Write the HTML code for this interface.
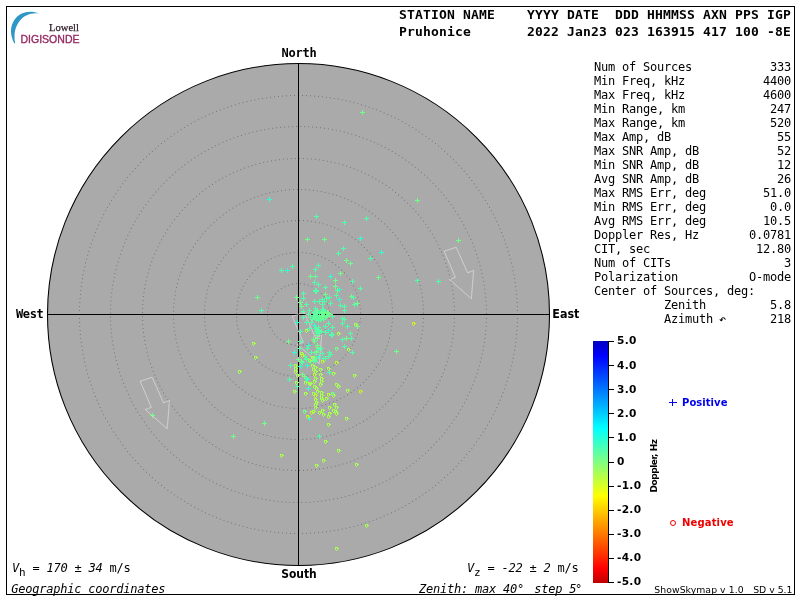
<!DOCTYPE html>
<html lang="en"><head><meta charset="utf-8"><title>Skymap - Pruhonice</title>
<style>
html,body{margin:0;padding:0;background:#fff;overflow:hidden}
svg{display:block}
.mb{font-family:"DejaVu Sans Mono","Liberation Mono",monospace;font-weight:bold;font-size:13px;letter-spacing:0.173px;fill:#000}
.m{font-family:"DejaVu Sans Mono","Liberation Mono",monospace;font-size:12px;letter-spacing:-0.225px;fill:#000}
.mi{font-family:"DejaVu Sans Mono","Liberation Mono",monospace;font-size:12px;letter-spacing:-0.225px;font-style:oblique;fill:#000}
.sb{font-family:"DejaVu Sans","Liberation Sans",sans-serif;font-weight:bold;font-size:12px;fill:#000}
.s{font-family:"DejaVu Sans","Liberation Sans",sans-serif;font-size:10px;fill:#000}
</style></head><body>
<svg width="800" height="600" viewBox="0 0 800 600">
<rect x="0" y="0" width="800" height="600" fill="#fff"/>
<rect x="6.5" y="6.5" width="788" height="588" fill="none" stroke="#000" stroke-width="1" shape-rendering="crispEdges"/>
<circle cx="298.5" cy="314.5" r="251.0" fill="#aaaaaa" stroke="#000" stroke-width="1.05"/>
<path d="M329.5 314.5h0M329.2 318.5h0M328.5 322.4h0M327.2 326.2h0M325.5 329.8h0M323.3 333.1h0M320.7 336.2h0M317.7 338.8h0M314.4 341.1h0M310.8 342.9h0M307.1 344.3h0M303.2 345.1h0M299.2 345.5h0M295.2 345.3h0M291.3 344.6h0M287.4 343.5h0M283.8 341.8h0M280.4 339.7h0M277.3 337.1h0M274.6 334.2h0M272.3 331.0h0M270.3 327.5h0M268.9 323.7h0M268.0 319.9h0M267.5 315.9h0M267.6 311.9h0M268.2 307.9h0M269.3 304.1h0M270.9 300.4h0M272.9 297.0h0M275.4 293.8h0M278.2 291.0h0M281.4 288.6h0M284.9 286.6h0M288.6 285.1h0M292.5 284.1h0M296.4 283.6h0M300.4 283.6h0M304.4 284.1h0M308.2 285.1h0M312.0 286.6h0M315.4 288.5h0M318.6 290.9h0M321.5 293.7h0M324.0 296.8h0M326.0 300.3h0M327.6 303.9h0M328.8 307.8h0M329.4 311.7h0" fill="none" stroke="#767676" stroke-width="1" stroke-linecap="square"/>
<path d="M360.5 314.5h0M360.4 318.5h0M360.0 322.5h0M359.3 326.4h0M358.4 330.3h0M357.3 334.2h0M355.9 337.9h0M354.3 341.6h0M352.4 345.1h0M350.3 348.5h0M348.0 351.8h0M345.5 354.9h0M342.8 357.8h0M339.9 360.6h0M336.9 363.2h0M333.7 365.6h0M330.3 367.7h0M326.8 369.7h0M323.2 371.4h0M319.5 372.8h0M315.7 374.1h0M311.8 375.1h0M307.9 375.8h0M303.9 376.3h0M299.9 376.5h0M295.9 376.4h0M291.9 376.1h0M287.9 375.6h0M284.0 374.8h0M280.2 373.7h0M276.4 372.4h0M272.7 370.9h0M269.1 369.1h0M265.7 367.1h0M262.3 364.9h0M259.2 362.4h0M256.2 359.8h0M253.3 357.0h0M250.7 354.0h0M248.2 350.8h0M246.0 347.5h0M244.0 344.0h0M242.2 340.5h0M240.6 336.8h0M239.3 333.0h0M238.3 329.1h0M237.4 325.2h0M236.9 321.3h0M236.6 317.3h0M236.5 313.3h0M236.7 309.3h0M237.2 305.3h0M237.9 301.4h0M238.9 297.5h0M240.1 293.7h0M241.6 290.0h0M243.3 286.3h0M245.2 282.8h0M247.3 279.5h0M249.7 276.2h0M252.3 273.2h0M255.0 270.3h0M258.0 267.6h0M261.1 265.1h0M264.3 262.8h0M267.8 260.7h0M271.3 258.8h0M274.9 257.2h0M278.7 255.8h0M282.5 254.6h0M286.4 253.7h0M290.4 253.0h0M294.3 252.6h0M298.3 252.5h0M302.3 252.6h0M306.3 253.0h0M310.3 253.6h0M314.2 254.5h0M318.0 255.6h0M321.7 257.0h0M325.4 258.6h0M329.0 260.5h0M332.4 262.6h0M335.6 264.9h0M338.8 267.4h0M341.7 270.1h0M344.5 272.9h0M347.1 276.0h0M349.5 279.2h0M351.6 282.6h0M353.6 286.0h0M355.3 289.7h0M356.8 293.4h0M358.0 297.2h0M359.0 301.1h0M359.8 305.0h0M360.3 308.9h0M360.5 312.9h0" fill="none" stroke="#767676" stroke-width="1" stroke-linecap="square"/>
<path d="M392.5 314.5h0M392.4 318.5h0M392.2 322.5h0M391.7 326.5h0M391.1 330.4h0M390.4 334.3h0M389.5 338.2h0M388.4 342.1h0M387.1 345.9h0M385.7 349.6h0M384.1 353.3h0M382.4 356.9h0M380.5 360.4h0M378.5 363.9h0M376.3 367.2h0M374.0 370.5h0M371.5 373.7h0M369.0 376.7h0M366.2 379.7h0M363.4 382.5h0M360.5 385.2h0M357.4 387.8h0M354.2 390.2h0M351.0 392.5h0M347.6 394.7h0M344.1 396.7h0M340.6 398.5h0M337.0 400.3h0M333.3 401.8h0M329.6 403.2h0M325.8 404.5h0M321.9 405.5h0M318.0 406.5h0M314.1 407.2h0M310.1 407.8h0M306.1 408.2h0M302.2 408.4h0M298.2 408.5h0M294.2 408.4h0M290.2 408.1h0M286.2 407.7h0M282.2 407.1h0M278.3 406.3h0M274.4 405.4h0M270.6 404.3h0M266.8 403.0h0M263.1 401.6h0M259.4 400.0h0M255.8 398.2h0M252.3 396.3h0M248.8 394.3h0M245.5 392.1h0M242.2 389.8h0M239.1 387.3h0M236.0 384.7h0M233.1 382.0h0M230.3 379.2h0M227.6 376.2h0M225.0 373.1h0M222.6 370.0h0M220.3 366.7h0M218.2 363.3h0M216.2 359.8h0M214.3 356.3h0M212.6 352.7h0M211.1 349.0h0M209.7 345.2h0M208.4 341.4h0M207.4 337.6h0M206.5 333.7h0M205.7 329.7h0M205.2 325.8h0M204.8 321.8h0M204.6 317.8h0M204.5 313.8h0M204.6 309.8h0M204.9 305.8h0M205.4 301.8h0M206.0 297.9h0M206.8 294.0h0M207.7 290.1h0M208.8 286.3h0M210.1 282.5h0M211.6 278.7h0M213.2 275.1h0M214.9 271.5h0M216.8 268.0h0M218.9 264.5h0M221.1 261.2h0M223.4 257.9h0M225.9 254.8h0M228.5 251.8h0M231.2 248.8h0M234.1 246.0h0M237.1 243.4h0M240.1 240.8h0M243.3 238.4h0M246.6 236.1h0M250.0 234.0h0M253.5 232.0h0M257.0 230.1h0M260.6 228.5h0M264.3 226.9h0M268.1 225.6h0M271.9 224.3h0M275.8 223.3h0M279.7 222.4h0M283.6 221.7h0M287.6 221.1h0M291.5 220.8h0M295.5 220.5h0M299.5 220.5h0M303.5 220.6h0M307.5 220.9h0M311.5 221.4h0M315.4 222.0h0M319.4 222.8h0M323.2 223.8h0M327.1 224.9h0M330.9 226.2h0M334.6 227.7h0M338.2 229.3h0M341.8 231.1h0M345.3 233.0h0M348.8 235.1h0M352.1 237.3h0M355.3 239.6h0M358.5 242.1h0M361.5 244.7h0M364.4 247.5h0M367.2 250.3h0M369.9 253.3h0M372.4 256.4h0M374.8 259.6h0M377.1 262.9h0M379.2 266.3h0M381.2 269.8h0M383.0 273.3h0M384.7 277.0h0M386.2 280.7h0M387.6 284.4h0M388.8 288.2h0M389.8 292.1h0M390.7 296.0h0M391.4 299.9h0M391.9 303.9h0M392.3 307.9h0M392.5 311.9h0" fill="none" stroke="#767676" stroke-width="1" stroke-linecap="square"/>
<path d="M423.5 314.5h0M423.4 318.5h0M423.2 322.5h0M422.9 326.5h0M422.5 330.5h0M421.9 334.4h0M421.2 338.4h0M420.4 342.3h0M419.4 346.2h0M418.4 350.0h0M417.2 353.8h0M415.8 357.6h0M414.4 361.3h0M412.8 365.0h0M411.2 368.6h0M409.4 372.2h0M407.5 375.7h0M405.5 379.2h0M403.3 382.6h0M401.1 385.9h0M398.8 389.1h0M396.3 392.3h0M393.8 395.4h0M391.1 398.4h0M388.4 401.3h0M385.6 404.2h0M382.7 406.9h0M379.7 409.6h0M376.6 412.1h0M373.4 414.6h0M370.2 416.9h0M366.9 419.1h0M363.5 421.3h0M360.0 423.3h0M356.5 425.2h0M353.0 427.0h0M349.3 428.7h0M345.7 430.3h0M341.9 431.7h0M338.2 433.0h0M334.3 434.3h0M330.5 435.3h0M326.6 436.3h0M322.7 437.1h0M318.8 437.8h0M314.8 438.4h0M310.8 438.9h0M306.8 439.2h0M302.8 439.4h0M298.8 439.5h0M294.9 439.4h0M290.9 439.3h0M286.9 439.0h0M282.9 438.5h0M278.9 438.0h0M275.0 437.3h0M271.1 436.5h0M267.2 435.5h0M263.3 434.5h0M259.5 433.3h0M255.7 432.0h0M252.0 430.5h0M248.3 429.0h0M244.7 427.3h0M241.1 425.5h0M237.6 423.6h0M234.1 421.6h0M230.7 419.5h0M227.4 417.3h0M224.1 415.0h0M221.0 412.5h0M217.9 410.0h0M214.8 407.4h0M211.9 404.7h0M209.1 401.8h0M206.3 398.9h0M203.7 395.9h0M201.1 392.9h0M198.7 389.7h0M196.3 386.5h0M194.1 383.2h0M191.9 379.8h0M189.9 376.3h0M188.0 372.8h0M186.1 369.3h0M184.4 365.7h0M182.9 362.0h0M181.4 358.3h0M180.1 354.5h0M178.8 350.7h0M177.8 346.8h0M176.8 342.9h0M175.9 339.0h0M175.2 335.1h0M174.6 331.1h0M174.1 327.2h0M173.8 323.2h0M173.6 319.2h0M173.5 315.2h0M173.5 311.2h0M173.7 307.2h0M174.0 303.2h0M174.4 299.2h0M175.0 295.3h0M175.7 291.3h0M176.5 287.4h0M177.4 283.5h0M178.5 279.7h0M179.6 275.8h0M180.9 272.1h0M182.3 268.3h0M183.9 264.6h0M185.5 261.0h0M187.3 257.4h0M189.2 253.9h0M191.2 250.4h0M193.3 247.0h0M195.5 243.7h0M197.8 240.4h0M200.2 237.2h0M202.8 234.1h0M205.4 231.1h0M208.1 228.2h0M210.9 225.3h0M213.8 222.6h0M216.8 219.9h0M219.9 217.3h0M223.0 214.9h0M226.2 212.5h0M229.5 210.2h0M232.9 208.1h0M236.3 206.0h0M239.8 204.1h0M243.4 202.3h0M247.0 200.6h0M250.7 199.0h0M254.4 197.5h0M258.2 196.2h0M262.0 195.0h0M265.8 193.8h0M269.7 192.9h0M273.6 192.0h0M277.6 191.3h0M281.5 190.7h0M285.5 190.2h0M289.5 189.8h0M293.5 189.6h0M297.5 189.5h0M301.5 189.5h0M305.4 189.7h0M309.4 190.0h0M313.4 190.4h0M317.4 190.9h0M321.3 191.6h0M325.2 192.4h0M329.1 193.3h0M333.0 194.4h0M336.8 195.5h0M340.6 196.8h0M344.4 198.2h0M348.1 199.7h0M351.7 201.4h0M355.3 203.1h0M358.8 205.0h0M362.3 207.0h0M365.7 209.1h0M369.0 211.3h0M372.3 213.6h0M375.5 216.0h0M378.6 218.5h0M381.6 221.2h0M384.6 223.9h0M387.4 226.7h0M390.2 229.6h0M392.9 232.5h0M395.4 235.6h0M397.9 238.7h0M400.3 242.0h0M402.6 245.2h0M404.7 248.6h0M406.8 252.0h0M408.7 255.5h0M410.6 259.1h0M412.3 262.7h0M413.9 266.4h0M415.3 270.1h0M416.7 273.9h0M417.9 277.7h0M419.1 281.5h0M420.1 285.4h0M420.9 289.3h0M421.7 293.2h0M422.3 297.2h0M422.8 301.1h0M423.1 305.1h0M423.4 309.1h0M423.5 313.1h0" fill="none" stroke="#767676" stroke-width="1" stroke-linecap="square"/>
<path d="M454.5 314.5h0M454.4 318.5h0M454.3 322.5h0M454.0 326.5h0M453.7 330.5h0M453.2 334.4h0M452.7 338.4h0M452.0 342.3h0M451.2 346.3h0M450.4 350.2h0M449.4 354.1h0M448.3 357.9h0M447.2 361.7h0M445.9 365.5h0M444.6 369.3h0M443.1 373.0h0M441.6 376.7h0M439.9 380.4h0M438.2 384.0h0M436.4 387.5h0M434.4 391.0h0M432.4 394.5h0M430.3 397.9h0M428.1 401.3h0M425.9 404.6h0M423.5 407.8h0M421.1 411.0h0M418.6 414.1h0M416.0 417.1h0M413.3 420.1h0M410.6 423.0h0M407.8 425.8h0M404.9 428.6h0M401.9 431.3h0M398.9 433.9h0M395.8 436.4h0M392.6 438.9h0M389.4 441.3h0M386.1 443.6h0M382.8 445.8h0M379.4 447.9h0M375.9 449.9h0M372.5 451.9h0M368.9 453.7h0M365.3 455.5h0M361.7 457.1h0M358.0 458.7h0M354.3 460.2h0M350.5 461.6h0M346.7 462.9h0M342.9 464.0h0M339.1 465.1h0M335.2 466.1h0M331.3 467.0h0M327.4 467.8h0M323.4 468.5h0M319.5 469.1h0M315.5 469.6h0M311.5 470.0h0M307.5 470.2h0M303.5 470.4h0M299.5 470.5h0M295.5 470.5h0M291.5 470.3h0M287.6 470.1h0M283.6 469.8h0M279.6 469.3h0M275.6 468.8h0M271.7 468.2h0M267.7 467.4h0M263.8 466.6h0M259.9 465.7h0M256.1 464.6h0M252.3 463.5h0M248.4 462.3h0M244.7 460.9h0M240.9 459.5h0M237.2 458.0h0M233.6 456.4h0M230.0 454.6h0M226.4 452.8h0M222.9 450.9h0M219.4 449.0h0M216.0 446.9h0M212.6 444.7h0M209.3 442.5h0M206.0 440.2h0M202.9 437.7h0M199.7 435.2h0M196.7 432.7h0M193.7 430.0h0M190.7 427.3h0M187.9 424.5h0M185.1 421.6h0M182.4 418.7h0M179.8 415.7h0M177.2 412.6h0M174.7 409.5h0M172.3 406.3h0M170.0 403.0h0M167.8 399.7h0M165.7 396.3h0M163.6 392.9h0M161.6 389.4h0M159.8 385.8h0M158.0 382.3h0M156.3 378.6h0M154.7 375.0h0M153.2 371.3h0M151.8 367.5h0M150.5 363.7h0M149.3 359.9h0M148.1 356.1h0M147.1 352.2h0M146.2 348.3h0M145.4 344.4h0M144.7 340.5h0M144.1 336.5h0M143.5 332.5h0M143.1 328.6h0M142.8 324.6h0M142.6 320.6h0M142.5 316.6h0M142.5 312.6h0M142.6 308.6h0M142.8 304.6h0M143.1 300.6h0M143.5 296.6h0M144.0 292.7h0M144.6 288.7h0M145.4 284.8h0M146.2 280.9h0M147.1 277.0h0M148.1 273.1h0M149.2 269.2h0M150.4 265.4h0M151.7 261.7h0M153.1 257.9h0M154.6 254.2h0M156.2 250.5h0M157.9 246.9h0M159.7 243.3h0M161.6 239.8h0M163.5 236.3h0M165.6 232.9h0M167.7 229.5h0M169.9 226.2h0M172.2 222.9h0M174.6 219.7h0M177.1 216.5h0M179.6 213.5h0M182.3 210.4h0M185.0 207.5h0M187.8 204.6h0M190.6 201.8h0M193.5 199.1h0M196.5 196.4h0M199.6 193.9h0M202.7 191.4h0M205.9 189.0h0M209.2 186.6h0M212.5 184.4h0M215.8 182.2h0M219.2 180.1h0M222.7 178.1h0M226.2 176.2h0M229.8 174.4h0M233.4 172.7h0M237.1 171.1h0M240.8 169.6h0M244.5 168.1h0M248.3 166.8h0M252.1 165.6h0M255.9 164.4h0M259.8 163.4h0M263.7 162.4h0M267.6 161.6h0M271.5 160.9h0M275.5 160.2h0M279.4 159.7h0M283.4 159.2h0M287.4 158.9h0M291.4 158.7h0M295.4 158.5h0M299.4 158.5h0M303.4 158.6h0M307.4 158.8h0M311.4 159.0h0M315.3 159.4h0M319.3 159.9h0M323.3 160.5h0M327.2 161.2h0M331.1 161.9h0M335.0 162.8h0M338.9 163.8h0M342.8 164.9h0M346.6 166.1h0M350.4 167.4h0M354.1 168.8h0M357.8 170.2h0M361.5 171.8h0M365.2 173.5h0M368.7 175.2h0M372.3 177.1h0M375.8 179.0h0M379.2 181.0h0M382.6 183.1h0M386.0 185.3h0M389.3 187.6h0M392.5 190.0h0M395.6 192.4h0M398.7 195.0h0M401.8 197.6h0M404.7 200.3h0M407.6 203.0h0M410.5 205.9h0M413.2 208.8h0M415.9 211.7h0M418.5 214.8h0M421.0 217.9h0M423.4 221.1h0M425.8 224.3h0M428.1 227.6h0M430.2 230.9h0M432.3 234.3h0M434.3 237.8h0M436.3 241.3h0M438.1 244.9h0M439.8 248.5h0M441.5 252.1h0M443.0 255.8h0M444.5 259.5h0M445.9 263.3h0M447.1 267.1h0M448.3 270.9h0M449.4 274.8h0M450.3 278.6h0M451.2 282.6h0M452.0 286.5h0M452.6 290.4h0M453.2 294.4h0M453.7 298.4h0M454.0 302.3h0M454.3 306.3h0M454.4 310.3h0M454.5 314.3h0" fill="none" stroke="#767676" stroke-width="1" stroke-linecap="square"/>
<path d="M486.5 314.5h0M486.5 318.5h0M486.3 322.5h0M486.1 326.5h0M485.8 330.5h0M485.4 334.5h0M485.0 338.4h0M484.4 342.4h0M483.8 346.3h0M483.1 350.3h0M482.3 354.2h0M481.4 358.1h0M480.4 362.0h0M479.4 365.8h0M478.2 369.7h0M477.0 373.5h0M475.7 377.3h0M474.3 381.0h0M472.9 384.8h0M471.3 388.4h0M469.7 392.1h0M468.0 395.7h0M466.3 399.3h0M464.4 402.9h0M462.5 406.4h0M460.5 409.9h0M458.5 413.3h0M456.3 416.7h0M454.1 420.0h0M451.8 423.3h0M449.5 426.5h0M447.1 429.7h0M444.6 432.8h0M442.0 435.9h0M439.4 438.9h0M436.7 441.9h0M434.0 444.8h0M431.2 447.7h0M428.3 450.5h0M425.4 453.2h0M422.4 455.9h0M419.4 458.5h0M416.3 461.0h0M413.2 463.5h0M410.0 465.9h0M406.7 468.2h0M403.4 470.5h0M400.1 472.7h0M396.7 474.8h0M393.3 476.9h0M389.8 478.9h0M386.3 480.8h0M382.7 482.6h0M379.1 484.3h0M375.5 486.0h0M371.8 487.6h0M368.1 489.1h0M364.4 490.6h0M360.6 491.9h0M356.8 493.2h0M353.0 494.4h0M349.2 495.5h0M345.3 496.6h0M341.4 497.5h0M337.5 498.4h0M333.6 499.2h0M329.7 499.9h0M325.7 500.5h0M321.8 501.1h0M317.8 501.5h0M313.8 501.9h0M309.8 502.2h0M305.8 502.4h0M301.8 502.5h0M297.8 502.5h0M293.8 502.4h0M289.8 502.3h0M285.8 502.1h0M281.8 501.8h0M277.9 501.4h0M273.9 500.9h0M269.9 500.3h0M266.0 499.7h0M262.0 498.9h0M258.1 498.1h0M254.2 497.2h0M250.4 496.2h0M246.5 495.2h0M242.7 494.0h0M238.9 492.8h0M235.1 491.5h0M231.3 490.1h0M227.6 488.6h0M223.9 487.1h0M220.3 485.4h0M216.6 483.7h0M213.1 482.0h0M209.5 480.1h0M206.0 478.2h0M202.6 476.2h0M199.1 474.1h0M195.8 471.9h0M192.4 469.7h0M189.2 467.4h0M185.9 465.1h0M182.8 462.6h0M179.6 460.1h0M176.6 457.6h0M173.5 455.0h0M170.6 452.3h0M167.7 449.5h0M164.8 446.7h0M162.1 443.8h0M159.3 440.9h0M156.7 437.9h0M154.1 434.9h0M151.6 431.8h0M149.1 428.6h0M146.7 425.4h0M144.4 422.1h0M142.1 418.8h0M139.9 415.5h0M137.8 412.1h0M135.8 408.7h0M133.8 405.2h0M131.9 401.7h0M130.1 398.1h0M128.4 394.5h0M126.7 390.8h0M125.1 387.2h0M123.6 383.5h0M122.2 379.7h0M120.8 376.0h0M119.6 372.2h0M118.4 368.4h0M117.3 364.5h0M116.3 360.6h0M115.3 356.8h0M114.5 352.8h0M113.7 348.9h0M113.0 345.0h0M112.4 341.0h0M111.9 337.1h0M111.4 333.1h0M111.1 329.1h0M110.8 325.1h0M110.6 321.1h0M110.5 317.1h0M110.5 313.1h0M110.6 309.1h0M110.7 305.1h0M111.0 301.1h0M111.3 297.1h0M111.7 293.2h0M112.2 289.2h0M112.8 285.2h0M113.5 281.3h0M114.2 277.4h0M115.0 273.5h0M116.0 269.6h0M116.9 265.7h0M118.0 261.8h0M119.2 258.0h0M120.4 254.2h0M121.8 250.4h0M123.2 246.7h0M124.6 243.0h0M126.2 239.3h0M127.8 235.6h0M129.6 232.0h0M131.3 228.4h0M133.2 224.9h0M135.2 221.4h0M137.2 218.0h0M139.3 214.6h0M141.4 211.2h0M143.7 207.9h0M146.0 204.6h0M148.3 201.4h0M150.8 198.2h0M153.3 195.1h0M155.9 192.0h0M158.5 189.0h0M161.2 186.1h0M164.0 183.2h0M166.8 180.3h0M169.7 177.6h0M172.6 174.9h0M175.6 172.2h0M178.7 169.6h0M181.8 167.1h0M184.9 164.7h0M188.2 162.3h0M191.4 160.0h0M194.7 157.7h0M198.1 155.6h0M201.5 153.5h0M204.9 151.4h0M208.4 149.5h0M212.0 147.6h0M215.5 145.8h0M219.1 144.1h0M222.8 142.4h0M226.5 140.8h0M230.2 139.4h0M233.9 137.9h0M237.7 136.6h0M241.5 135.4h0M245.3 134.2h0M249.2 133.1h0M253.0 132.1h0M256.9 131.2h0M260.8 130.3h0M264.8 129.6h0M268.7 128.9h0M272.7 128.3h0M276.6 127.8h0M280.6 127.4h0M284.6 127.0h0M288.6 126.8h0M292.6 126.6h0M296.6 126.5h0M300.6 126.5h0M304.6 126.6h0M308.6 126.8h0M312.6 127.0h0M316.5 127.4h0M320.5 127.8h0M324.5 128.3h0M328.4 128.9h0M332.4 129.6h0M336.3 130.3h0M340.2 131.2h0M344.1 132.1h0M348.0 133.1h0M351.8 134.2h0M355.7 135.4h0M359.4 136.7h0M363.2 138.0h0M367.0 139.4h0M370.7 140.9h0M374.3 142.5h0M378.0 144.1h0M381.6 145.9h0M385.2 147.7h0M388.7 149.5h0M392.2 151.5h0M395.6 153.5h0M399.0 155.6h0M402.4 157.8h0M405.7 160.1h0M409.0 162.4h0M412.2 164.8h0M415.3 167.2h0M418.4 169.7h0M421.5 172.3h0M424.5 175.0h0M427.4 177.7h0M430.3 180.4h0M433.1 183.3h0M435.9 186.2h0M438.6 189.1h0M441.2 192.1h0M443.8 195.2h0M446.3 198.3h0M448.7 201.5h0M451.1 204.7h0M453.4 208.0h0M455.6 211.3h0M457.8 214.7h0M459.9 218.1h0M461.9 221.5h0M463.8 225.0h0M465.7 228.6h0M467.5 232.2h0M469.2 235.8h0M470.9 239.4h0M472.4 243.1h0M473.9 246.8h0M475.3 250.6h0M476.6 254.3h0M477.9 258.1h0M479.0 262.0h0M480.1 265.8h0M481.1 269.7h0M482.0 273.6h0M482.8 277.5h0M483.6 281.4h0M484.2 285.4h0M484.8 289.3h0M485.3 293.3h0M485.7 297.3h0M486.0 301.3h0M486.3 305.3h0M486.4 309.3h0M486.5 313.3h0" fill="none" stroke="#767676" stroke-width="1" stroke-linecap="square"/>
<path d="M517.5 314.5h0M517.5 318.5h0M517.4 322.5h0M517.2 326.5h0M516.9 330.5h0M516.6 334.5h0M516.2 338.5h0M515.7 342.4h0M515.2 346.4h0M514.5 350.3h0M513.9 354.3h0M513.1 358.2h0M512.3 362.1h0M511.4 366.0h0M510.4 369.9h0M509.3 373.8h0M508.2 377.6h0M507.0 381.4h0M505.8 385.2h0M504.4 389.0h0M503.0 392.7h0M501.6 396.5h0M500.1 400.2h0M498.5 403.8h0M496.8 407.5h0M495.1 411.1h0M493.3 414.6h0M491.4 418.2h0M489.5 421.7h0M487.5 425.2h0M485.4 428.6h0M483.3 432.0h0M481.1 435.3h0M478.9 438.7h0M476.6 441.9h0M474.3 445.2h0M471.8 448.3h0M469.4 451.5h0M466.8 454.6h0M464.2 457.6h0M461.6 460.6h0M458.9 463.6h0M456.2 466.5h0M453.4 469.4h0M450.5 472.2h0M447.6 474.9h0M444.6 477.6h0M441.6 480.2h0M438.6 482.8h0M435.5 485.4h0M432.3 487.8h0M429.2 490.3h0M425.9 492.6h0M422.7 494.9h0M419.3 497.1h0M416.0 499.3h0M412.6 501.4h0M409.2 503.5h0M405.7 505.5h0M402.2 507.4h0M398.6 509.3h0M395.1 511.1h0M391.5 512.8h0M387.8 514.5h0M384.2 516.1h0M380.5 517.6h0M376.7 519.0h0M373.0 520.4h0M369.2 521.8h0M365.4 523.0h0M361.6 524.2h0M357.8 525.3h0M353.9 526.4h0M350.0 527.4h0M346.1 528.3h0M342.2 529.1h0M338.3 529.9h0M334.3 530.5h0M330.4 531.2h0M326.4 531.7h0M322.5 532.2h0M318.5 532.6h0M314.5 532.9h0M310.5 533.2h0M306.5 533.4h0M302.5 533.5h0M298.5 533.5h0M294.5 533.5h0M290.5 533.4h0M286.5 533.2h0M282.5 532.9h0M278.5 532.6h0M274.6 532.2h0M270.6 531.7h0M266.6 531.2h0M262.7 530.5h0M258.7 529.9h0M254.8 529.1h0M250.9 528.3h0M247.0 527.4h0M243.1 526.4h0M239.3 525.3h0M235.4 524.2h0M231.6 523.0h0M227.8 521.8h0M224.0 520.4h0M220.3 519.1h0M216.5 517.6h0M212.9 516.1h0M209.2 514.5h0M205.5 512.8h0M201.9 511.1h0M198.4 509.3h0M194.8 507.4h0M191.3 505.5h0M187.9 503.5h0M184.4 501.4h0M181.0 499.3h0M177.7 497.1h0M174.4 494.9h0M171.1 492.6h0M167.8 490.3h0M164.7 487.8h0M161.5 485.4h0M158.4 482.8h0M155.4 480.3h0M152.4 477.6h0M149.4 474.9h0M146.5 472.2h0M143.6 469.4h0M140.8 466.5h0M138.1 463.6h0M135.4 460.6h0M132.8 457.6h0M130.2 454.6h0M127.6 451.5h0M125.2 448.4h0M122.8 445.2h0M120.4 441.9h0M118.1 438.7h0M115.9 435.3h0M113.7 432.0h0M111.6 428.6h0M109.5 425.2h0M107.5 421.7h0M105.6 418.2h0M103.7 414.6h0M101.9 411.1h0M100.2 407.5h0M98.5 403.8h0M96.9 400.2h0M95.4 396.5h0M94.0 392.7h0M92.6 389.0h0M91.2 385.2h0M90.0 381.4h0M88.8 377.6h0M87.7 373.8h0M86.6 369.9h0M85.6 366.0h0M84.7 362.1h0M83.9 358.2h0M83.1 354.3h0M82.5 350.3h0M81.8 346.4h0M81.3 342.4h0M80.8 338.5h0M80.4 334.5h0M80.1 330.5h0M79.8 326.5h0M79.6 322.5h0M79.5 318.5h0M79.5 314.5h0M79.5 310.5h0M79.6 306.5h0M79.8 302.5h0M80.1 298.5h0M80.4 294.5h0M80.8 290.6h0M81.3 286.6h0M81.8 282.6h0M82.5 278.7h0M83.1 274.7h0M83.9 270.8h0M84.7 266.9h0M85.6 263.0h0M86.6 259.1h0M87.7 255.3h0M88.8 251.4h0M90.0 247.6h0M91.2 243.8h0M92.6 240.0h0M93.9 236.3h0M95.4 232.6h0M96.9 228.9h0M98.5 225.2h0M100.2 221.6h0M101.9 217.9h0M103.7 214.4h0M105.6 210.8h0M107.5 207.3h0M109.5 203.9h0M111.6 200.4h0M113.7 197.0h0M115.8 193.7h0M118.1 190.4h0M120.4 187.1h0M122.7 183.8h0M125.2 180.7h0M127.6 177.5h0M130.2 174.4h0M132.7 171.4h0M135.4 168.4h0M138.1 165.4h0M140.8 162.5h0M143.6 159.7h0M146.5 156.8h0M149.4 154.1h0M152.3 151.4h0M155.4 148.8h0M158.4 146.2h0M161.5 143.6h0M164.6 141.2h0M167.8 138.8h0M171.1 136.4h0M174.3 134.1h0M177.7 131.9h0M181.0 129.7h0M184.4 127.6h0M187.8 125.5h0M191.3 123.5h0M194.8 121.6h0M198.4 119.7h0M201.9 117.9h0M205.5 116.2h0M209.2 114.5h0M212.8 112.9h0M216.5 111.4h0M220.3 110.0h0M224.0 108.6h0M227.8 107.2h0M231.6 106.0h0M235.4 104.8h0M239.2 103.7h0M243.1 102.6h0M247.0 101.6h0M250.9 100.7h0M254.8 99.9h0M258.7 99.1h0M262.6 98.5h0M266.6 97.8h0M270.6 97.3h0M274.5 96.8h0M278.5 96.4h0M282.5 96.1h0M286.5 95.8h0M290.5 95.6h0M294.5 95.5h0M298.5 95.5h0M302.5 95.5h0M306.5 95.6h0M310.5 95.8h0M314.5 96.1h0M318.5 96.4h0M322.4 96.8h0M326.4 97.3h0M330.4 97.8h0M334.3 98.5h0M338.3 99.1h0M342.2 99.9h0M346.1 100.7h0M350.0 101.6h0M353.9 102.6h0M357.7 103.7h0M361.6 104.8h0M365.4 106.0h0M369.2 107.2h0M373.0 108.6h0M376.7 109.9h0M380.4 111.4h0M384.1 112.9h0M387.8 114.5h0M391.4 116.2h0M395.0 117.9h0M398.6 119.7h0M402.2 121.6h0M405.7 123.5h0M409.1 125.5h0M412.6 127.6h0M416.0 129.7h0M419.3 131.8h0M422.6 134.1h0M425.9 136.4h0M429.1 138.7h0M432.3 141.2h0M435.5 143.6h0M438.6 146.2h0M441.6 148.7h0M444.6 151.4h0M447.6 154.1h0M450.5 156.8h0M453.3 159.6h0M456.1 162.5h0M458.9 165.4h0M461.6 168.3h0M464.2 171.3h0M466.8 174.4h0M469.4 177.5h0M471.8 180.6h0M474.2 183.8h0M476.6 187.1h0M478.9 190.3h0M481.1 193.6h0M483.3 197.0h0M485.4 200.4h0M487.5 203.8h0M489.5 207.3h0M491.4 210.8h0M493.3 214.3h0M495.1 217.9h0M496.8 221.5h0M498.5 225.2h0M500.0 228.8h0M501.6 232.5h0M503.0 236.3h0M504.4 240.0h0M505.8 243.8h0M507.0 247.6h0M508.2 251.4h0M509.3 255.2h0M510.4 259.1h0M511.4 263.0h0M512.3 266.9h0M513.1 270.8h0M513.9 274.7h0M514.5 278.6h0M515.2 282.6h0M515.7 286.6h0M516.2 290.5h0M516.6 294.5h0M516.9 298.5h0M517.2 302.5h0M517.4 306.5h0M517.5 310.5h0M517.5 314.5h0" fill="none" stroke="#767676" stroke-width="1" stroke-linecap="square"/>
<line x1="298.5" y1="63.5" x2="298.5" y2="565.5" stroke="#000" stroke-width="1" shape-rendering="crispEdges"/>
<line x1="47.5" y1="314.5" x2="549.5" y2="314.5" stroke="#000" stroke-width="1" shape-rendering="crispEdges"/>
<polygon points="292.2,316.2 304.2,312.3 315.6,337.8 321.6,335.5 319.3,363.7 297.3,344.5 303.4,342.4" fill="none" stroke="#fff" stroke-opacity="0.32" stroke-width="1" stroke-linejoin="miter"/>
<polygon points="444.2,251.2 456.2,247.3 467.6,272.8 473.6,270.5 471.4,298.7 449.4,279.5 455.4,277.4" fill="none" stroke="#fff" stroke-opacity="0.32" stroke-width="1" stroke-linejoin="miter"/>
<polygon points="140.1,381.2 152.1,377.3 163.5,402.8 169.5,400.5 167.2,428.7 145.2,409.5 151.3,407.4" fill="none" stroke="#fff" stroke-opacity="0.32" stroke-width="1" stroke-linejoin="miter"/>
<g fill="none" stroke-width="1" shape-rendering="crispEdges">
<path stroke="#5cffa0" d="M321 309.5h5M323.5 307v5M314 310.5h5M316.5 308v5M321 310.5h5M323.5 308v5M313 311.5h5M315.5 309v5M315 311.5h5M317.5 309v5M320 311.5h5M322.5 309v5M322 311.5h5M324.5 309v5M312 312.5h5M314.5 310v5M314 312.5h5M316.5 310v5M317 312.5h5M319.5 310v5M321 312.5h5M323.5 310v5M313 313.5h5M315.5 311v5M315 313.5h5M317.5 311v5M319 313.5h5M321.5 311v5M322 313.5h5M324.5 311v5M306 314.5h5M308.5 312v5M313 314.5h5M315.5 312v5M311 315.5h5M313.5 313v5M314 315.5h5M316.5 313v5M317 315.5h5M319.5 313v5M320 315.5h5M322.5 313v5M322 315.5h5M324.5 313v5M325 315.5h5M327.5 313v5M313 316.5h5M315.5 314v5M315 316.5h5M317.5 314v5M321 316.5h5M323.5 314v5M308 317.5h5M310.5 315v5M314 317.5h5M316.5 315v5M316 317.5h5M318.5 315v5M318 317.5h5M320.5 315v5M323 317.5h5M325.5 315v5M313 318.5h5M315.5 316v5M315 318.5h5M317.5 316v5M319 318.5h5M321.5 316v5M310 319.5h5M312.5 317v5M314 319.5h5M316.5 317v5M316 319.5h5M318.5 317v5M318 319.5h5M320.5 317v5M321 319.5h5M323.5 317v5M316 320.5h5M318.5 318v5"/>
<path stroke="#70ff88" d="M320 312.5h5M322.5 310v5M325 312.5h5M327.5 310v5M326 313.5h5M328.5 311v5M327 314.5h5M329.5 312v5M319 316.5h5M321.5 314v5M324 316.5h5M326.5 314v5M320 317.5h5M322.5 315v5M360 112.5h5M362.5 110v5M305 239.5h5M307.5 237v5M322 239.5h5M324.5 237v5M255 297.5h5M257.5 295v5M294 297.5h5M296.5 295v5M344 260.5h5M346.5 258v5M348 263.5h5M350.5 261v5M308 276.5h5M310.5 274v5M338 273.5h5M340.5 271v5M333 280.5h5M335.5 278v5M333 286.5h5M335.5 284v5M335 290.5h5M337.5 288v5M376 277.5h5M378.5 275v5M456 240.5h5M458.5 238v5M415 200.5h5M417.5 198v5M286 341.5h5M288.5 339v5M296 359.5h5M298.5 357v5M262 423.5h5M264.5 421v5M231 436.5h5M233.5 434v5M150 415.5h5M152.5 413v5M394 351.5h5M396.5 349v5M298 302.5h5M300.5 300v5M299 306.5h5M301.5 304v5M323 294.5h5M325.5 292v5M349 296.5h5M351.5 294v5M355 303.5h5M357.5 301v5M344 338.5h5M346.5 336v5M355 326.5h5M357.5 324v5M311 339.5h5M313.5 337v5M315 338.5h5M317.5 336v5M312 341.5h5M314.5 339v5M315 345.5h5M317.5 343v5M315 347.5h5M317.5 345v5M299 361.5h5M301.5 359v5M300 374.5h5M302.5 372v5M311 360.5h5M313.5 358v5M312 357.5h5M314.5 355v5M302 376.5h5M304.5 374v5M314 351.5h5M316.5 349v5M316 330.5h5M318.5 328v5M315 335.5h5M317.5 333v5"/>
<path stroke="#30ffd0" d="M267 199.5h5M269.5 197v5M358 238.5h5M360.5 236v5M285 270.5h5M287.5 268v5M328 276.5h5M330.5 274v5M337 289.5h5M339.5 287v5M379 252.5h5M381.5 250v5M295 322.5h5M297.5 320v5M292 352.5h5M294.5 350v5M307 418.5h5M309.5 416v5M337 299.5h5M339.5 297v5M326 330.5h5M328.5 328v5M312 325.5h5M314.5 323v5M306 345.5h5M308.5 343v5M316 356.5h5M318.5 354v5M298 366.5h5M300.5 364v5M305 365.5h5M307.5 363v5M306 388.5h5M308.5 386v5M305 379.5h5M307.5 377v5"/>
<path stroke="#50ffa8" d="M314 216.5h5M316.5 214v5M342 222.5h5M344.5 220v5M364 218.5h5M366.5 216v5M290 266.5h5M292.5 264v5M279 270.5h5M281.5 268v5M341 248.5h5M343.5 246v5M336 253.5h5M338.5 251v5M368 258.5h5M370.5 256v5M316 265.5h5M318.5 263v5M313 269.5h5M315.5 267v5M313 276.5h5M315.5 274v5M312 282.5h5M314.5 280v5M316 284.5h5M318.5 282v5M323 287.5h5M325.5 285v5M350 281.5h5M352.5 279v5M358 288.5h5M360.5 286v5M415 280.5h5M417.5 278v5M436 281.5h5M438.5 279v5M259 310.5h5M261.5 308v5M288 365.5h5M290.5 363v5M287 379.5h5M289.5 377v5M295 386.5h5M297.5 384v5M317 436.5h5M319.5 434v5M301 293.5h5M303.5 291v5M301 298.5h5M303.5 296v5M304 304.5h5M306.5 302v5M312 301.5h5M314.5 299v5M317 301.5h5M319.5 299v5M313 290.5h5M315.5 288v5M314 291.5h5M316.5 289v5M313 291.5h5M315.5 289v5M314 290.5h5M316.5 288v5M301 311.5h5M303.5 309v5M307 310.5h5M309.5 308v5M313 308.5h5M315.5 306v5M320 299.5h5M322.5 297v5M327 297.5h5M329.5 295v5M324 298.5h5M326.5 296v5M334 295.5h5M336.5 293v5M328 303.5h5M330.5 301v5M320 304.5h5M322.5 302v5M322 301.5h5M324.5 299v5M338 305.5h5M340.5 303v5M342 306.5h5M344.5 304v5M342 310.5h5M344.5 308v5M351 297.5h5M353.5 295v5M352 304.5h5M354.5 302v5M340 318.5h5M342.5 316v5M342 319.5h5M344.5 317v5M340 323.5h5M342.5 321v5M345 326.5h5M347.5 324v5M348 333.5h5M350.5 331v5M349 338.5h5M351.5 336v5M340 339.5h5M342.5 337v5M330 316.5h5M332.5 314v5M326 323.5h5M328.5 321v5M330 327.5h5M332.5 325v5M329 334.5h5M331.5 332v5M330 334.5h5M332.5 332v5M329 335.5h5M331.5 333v5M323 326.5h5M325.5 324v5M323 332.5h5M325.5 330v5M301 317.5h5M303.5 315v5M304 322.5h5M306.5 320v5M309 322.5h5M311.5 320v5M307 328.5h5M309.5 326v5M319 331.5h5M321.5 329v5M298 331.5h5M300.5 329v5M298 341.5h5M300.5 339v5M297 348.5h5M299.5 346v5M305 348.5h5M307.5 346v5M309 352.5h5M311.5 350v5M319 348.5h5M321.5 346v5M320 353.5h5M322.5 351v5M304 359.5h5M306.5 357v5M342 346.5h5M344.5 344v5M350 352.5h5M352.5 350v5M327 352.5h5M329.5 350v5M328 354.5h5M330.5 352v5M326 356.5h5M328.5 354v5M323 358.5h5M325.5 356v5M327 372.5h5M329.5 370v5M320 309.5h5M322.5 307v5M303 356.5h5M305.5 354v5M304 358.5h5M306.5 356v5M300 362.5h5M302.5 360v5M314 352.5h5M316.5 350v5M321 358.5h5M323.5 356v5M313 361.5h5M315.5 359v5M308 361.5h5M310.5 359v5M314 358.5h5M316.5 356v5M304 378.5h5M306.5 376v5M316 349.5h5M318.5 347v5M313 328.5h5M315.5 326v5M315 329.5h5M317.5 327v5M314 331.5h5M316.5 329v5M315 333.5h5M317.5 331v5M316 327.5h5M318.5 325v5M317 332.5h5M319.5 330v5"/>
</g>
<g stroke="none" shape-rendering="crispEdges">
<path fill="#a4ff50" d="M252 342h3v1h-3zM252 343h1v2h-1zM254 343h2v1h-1v1h-1zM253 345h1v1h-1zM254 356h3v1h-3zM254 357h1v2h-1zM256 357h2v1h-1v1h-1zM255 359h1v1h-1zM238 370h3v1h-3zM238 371h1v2h-1zM240 371h2v1h-1v1h-1zM239 373h1v1h-1zM280 454h3v1h-3zM280 455h1v2h-1zM282 455h2v1h-1v1h-1zM281 457h1v1h-1zM365 524h3v1h-3zM365 525h1v2h-1zM367 525h2v1h-1v1h-1zM366 527h1v1h-1zM335 547h3v1h-3zM335 548h1v2h-1zM337 548h2v1h-1v1h-1zM336 550h1v1h-1zM345 417h3v1h-3zM345 418h1v2h-1zM347 418h2v1h-1v1h-1zM346 420h1v1h-1zM327 423h3v1h-3zM327 424h1v2h-1zM329 424h2v1h-1v1h-1zM328 426h1v1h-1zM324 440h3v1h-3zM324 441h1v2h-1zM326 441h2v1h-1v1h-1zM325 443h1v1h-1zM337 449h3v1h-3zM337 450h1v2h-1zM339 450h2v1h-1v1h-1zM338 452h1v1h-1zM322 459h3v1h-3zM322 460h1v2h-1zM324 460h2v1h-1v1h-1zM323 462h1v1h-1zM315 464h3v1h-3zM315 465h1v2h-1zM317 465h2v1h-1v1h-1zM316 467h1v1h-1zM355 463h3v1h-3zM355 464h1v2h-1zM357 464h2v1h-1v1h-1zM356 466h1v1h-1zM353 374h3v1h-3zM353 375h1v2h-1zM355 375h2v1h-1v1h-1zM354 377h1v1h-1zM305 329h3v1h-3zM305 330h1v2h-1zM307 330h2v1h-1v1h-1zM306 332h1v1h-1zM354 323h3v1h-3zM354 324h1v2h-1zM356 324h2v1h-1v1h-1zM355 326h1v1h-1zM337 332h3v1h-3zM337 333h1v2h-1zM339 333h2v1h-1v1h-1zM338 335h1v1h-1zM347 348h3v1h-3zM347 349h1v2h-1zM349 349h2v1h-1v1h-1zM348 351h1v1h-1zM327 367h3v1h-3zM327 368h1v2h-1zM329 368h2v1h-1v1h-1zM328 370h1v1h-1zM300 352h3v1h-3zM300 353h1v2h-1zM302 353h2v1h-1v1h-1zM301 355h1v1h-1zM308 359h3v1h-3zM308 360h1v2h-1zM310 360h2v1h-1v1h-1zM309 362h1v1h-1zM311 356h3v1h-3zM311 357h1v2h-1zM313 357h2v1h-1v1h-1zM312 359h1v1h-1zM294 364h3v1h-3zM294 365h1v2h-1zM296 365h2v1h-1v1h-1zM295 367h1v1h-1zM294 367h3v1h-3zM294 368h1v2h-1zM296 368h2v1h-1v1h-1zM295 370h1v1h-1zM294 370h3v1h-3zM294 371h1v2h-1zM296 371h2v1h-1v1h-1zM295 373h1v1h-1zM296 374h3v1h-3zM296 375h1v2h-1zM298 375h2v1h-1v1h-1zM297 377h1v1h-1zM295 381h3v1h-3zM295 382h1v2h-1zM297 382h2v1h-1v1h-1zM296 384h1v1h-1zM293 390h3v1h-3zM293 391h1v2h-1zM295 391h2v1h-1v1h-1zM294 393h1v1h-1zM311 364h3v1h-3zM311 365h1v2h-1zM313 365h2v1h-1v1h-1zM312 367h1v1h-1zM314 366h3v1h-3zM314 367h1v2h-1zM316 367h2v1h-1v1h-1zM315 369h1v1h-1zM312 368h3v1h-3zM312 369h1v2h-1zM314 369h2v1h-1v1h-1zM313 371h1v1h-1zM314 370h3v1h-3zM314 371h1v2h-1zM316 371h2v1h-1v1h-1zM315 373h1v1h-1zM314 377h3v1h-3zM314 378h1v2h-1zM316 378h2v1h-1v1h-1zM315 380h1v1h-1zM313 380h3v1h-3zM313 381h1v2h-1zM315 381h2v1h-1v1h-1zM314 383h1v1h-1zM308 382h3v1h-3zM308 383h1v2h-1zM310 383h2v1h-1v1h-1zM309 385h1v1h-1zM313 385h3v1h-3zM313 386h1v2h-1zM315 386h2v1h-1v1h-1zM314 388h1v1h-1zM315 387h3v1h-3zM315 388h1v2h-1zM317 388h2v1h-1v1h-1zM316 390h1v1h-1zM319 368h3v1h-3zM319 369h1v2h-1zM321 369h2v1h-1v1h-1zM320 371h1v1h-1zM319 373h3v1h-3zM319 374h1v2h-1zM321 374h2v1h-1v1h-1zM320 376h1v1h-1zM320 377h3v1h-3zM320 378h1v2h-1zM322 378h2v1h-1v1h-1zM321 380h1v1h-1zM320 380h3v1h-3zM320 381h1v2h-1zM322 381h2v1h-1v1h-1zM321 383h1v1h-1zM319 383h3v1h-3zM319 384h1v2h-1zM321 384h2v1h-1v1h-1zM320 386h1v1h-1zM332 372h3v1h-3zM332 373h1v2h-1zM334 373h2v1h-1v1h-1zM333 375h1v1h-1zM335 383h3v1h-3zM335 384h1v2h-1zM337 384h2v1h-1v1h-1zM336 386h1v1h-1zM337 385h3v1h-3zM337 386h1v2h-1zM339 386h2v1h-1v1h-1zM338 388h1v1h-1zM304 392h3v1h-3zM304 393h1v2h-1zM306 393h2v1h-1v1h-1zM305 395h1v1h-1zM312 392h3v1h-3zM312 393h1v2h-1zM314 393h2v1h-1v1h-1zM313 395h1v1h-1zM314 398h3v1h-3zM314 399h1v2h-1zM316 399h2v1h-1v1h-1zM315 401h1v1h-1zM315 401h3v1h-3zM315 402h1v2h-1zM317 402h2v1h-1v1h-1zM316 404h1v1h-1zM314 403h3v1h-3zM314 404h1v2h-1zM316 404h2v1h-1v1h-1zM315 406h1v1h-1zM314 406h3v1h-3zM314 407h1v2h-1zM316 407h2v1h-1v1h-1zM315 409h1v1h-1zM320 391h3v1h-3zM320 392h1v2h-1zM322 392h2v1h-1v1h-1zM321 394h1v1h-1zM320 394h3v1h-3zM320 395h1v2h-1zM322 395h2v1h-1v1h-1zM321 397h1v1h-1zM320 397h3v1h-3zM320 398h1v2h-1zM322 398h2v1h-1v1h-1zM321 400h1v1h-1zM321 399h3v1h-3zM321 400h1v2h-1zM323 400h2v1h-1v1h-1zM322 402h1v1h-1zM316 390h3v1h-3zM316 391h1v2h-1zM318 391h2v1h-1v1h-1zM317 393h1v1h-1zM312 410h3v1h-3zM312 411h1v2h-1zM314 411h2v1h-1v1h-1zM313 413h1v1h-1zM318 411h3v1h-3zM318 412h1v2h-1zM320 412h2v1h-1v1h-1zM319 414h1v1h-1zM321 409h3v1h-3zM321 410h1v2h-1zM323 410h2v1h-1v1h-1zM322 412h1v1h-1zM346 389h3v1h-3zM346 390h1v2h-1zM348 390h2v1h-1v1h-1zM347 392h1v1h-1zM332 394h3v1h-3zM332 395h1v2h-1zM334 395h2v1h-1v1h-1zM333 397h1v1h-1zM325 397h3v1h-3zM325 398h1v2h-1zM327 398h2v1h-1v1h-1zM326 400h1v1h-1zM333 403h3v1h-3zM333 404h1v2h-1zM335 404h2v1h-1v1h-1zM334 406h1v1h-1zM335 406h3v1h-3zM335 407h1v2h-1zM337 407h2v1h-1v1h-1zM336 409h1v1h-1zM328 406h3v1h-3zM328 407h1v2h-1zM330 407h2v1h-1v1h-1zM329 409h1v1h-1zM332 409h3v1h-3zM332 410h1v2h-1zM334 410h2v1h-1v1h-1zM333 412h1v1h-1zM334 410h3v1h-3zM334 411h1v2h-1zM336 411h2v1h-1v1h-1zM335 413h1v1h-1zM328 412h3v1h-3zM328 413h1v2h-1zM330 413h2v1h-1v1h-1zM329 415h1v1h-1zM335 412h3v1h-3zM335 413h1v2h-1zM337 413h2v1h-1v1h-1zM336 415h1v1h-1zM322 413h3v1h-3zM322 414h1v2h-1zM324 414h2v1h-1v1h-1zM323 416h1v1h-1zM327 415h3v1h-3zM327 416h1v2h-1zM329 416h2v1h-1v1h-1zM328 418h1v1h-1zM304 381h3v1h-3zM304 382h1v2h-1zM306 382h2v1h-1v1h-1zM305 384h1v1h-1zM309 382h3v1h-3zM309 383h1v2h-1zM311 383h2v1h-1v1h-1zM310 385h1v1h-1z"/>
<path fill="#d4ec20" d="M412 322h3v1h-3zM412 323h1v2h-1zM414 323h2v1h-1v1h-1zM413 325h1v1h-1zM359 390h3v1h-3zM359 391h1v2h-1zM361 391h2v1h-1v1h-1zM360 393h1v1h-1z"/>
<path fill="#bcf830" d="M306 415h3v1h-3zM306 416h1v2h-1zM308 416h2v1h-1v1h-1zM307 418h1v1h-1zM335 361h3v1h-3zM335 362h1v2h-1zM337 362h2v1h-1v1h-1zM336 364h1v1h-1zM301 354h3v1h-3zM301 355h1v2h-1zM303 355h2v1h-1v1h-1zM302 357h1v1h-1zM321 360h3v1h-3zM321 361h1v2h-1zM323 361h2v1h-1v1h-1zM322 363h1v1h-1zM313 373h3v1h-3zM313 374h1v2h-1zM315 374h2v1h-1v1h-1zM314 376h1v1h-1zM314 394h3v1h-3zM314 395h1v2h-1zM316 395h2v1h-1v1h-1zM315 397h1v1h-1zM310 411h3v1h-3zM310 412h1v2h-1zM312 412h2v1h-1v1h-1zM311 414h1v1h-1zM327 393h3v1h-3zM327 394h1v2h-1zM329 394h2v1h-1v1h-1zM328 396h1v1h-1z"/>
<path fill="#70ff88" d="M335 347h3v1h-3zM335 348h1v2h-1zM337 348h2v1h-1v1h-1zM336 350h1v1h-1zM314 351h3v1h-3zM314 352h1v2h-1zM316 352h2v1h-1v1h-1zM315 354h1v1h-1zM303 410h3v1h-3zM303 411h1v2h-1zM305 411h2v1h-1v1h-1zM304 413h1v1h-1zM331 392h3v1h-3zM331 393h1v2h-1zM333 393h2v1h-1v1h-1zM332 395h1v1h-1z"/>
</g>
<polygon points="292.2,316.2 304.2,312.3 315.6,337.8 321.6,335.5 319.3,363.7 297.3,344.5 303.4,342.4" fill="none" stroke="#fff" stroke-opacity="0.15" stroke-width="1" stroke-linejoin="miter"/>
<polygon points="444.2,251.2 456.2,247.3 467.6,272.8 473.6,270.5 471.4,298.7 449.4,279.5 455.4,277.4" fill="none" stroke="#fff" stroke-opacity="0.15" stroke-width="1" stroke-linejoin="miter"/>
<polygon points="140.1,381.2 152.1,377.3 163.5,402.8 169.5,400.5 167.2,428.7 145.2,409.5 151.3,407.4" fill="none" stroke="#fff" stroke-opacity="0.15" stroke-width="1" stroke-linejoin="miter"/>
<text class="mb" x="281.5" y="57" style="font-size:12px;letter-spacing:-0.225px">North</text>
<text class="mb" x="16" y="318" style="font-size:12px;letter-spacing:-0.38px">West</text>
<text class="sb" x="552.3" y="318" textLength="27.1" lengthAdjust="spacingAndGlyphs">East</text>
<text class="sb" x="281.2" y="578" textLength="35.6" lengthAdjust="spacingAndGlyphs">South</text>
<path d="M14.2 43.2C10.2 35.5 9.6 27 14.5 19.8C19.6 12.4 29.5 9.6 39.3 13.6C31 12.4 23.6 15.6 19.2 21.6C14.6 27.9 13.6 35.6 15.2 43.2Z" fill="#2f97c6"/>
<text x="49" y="30.5" style="font-family:'Liberation Serif','DejaVu Serif',serif;font-size:10.6px;fill:#33202c;stroke:#33202c;stroke-width:0.25px">Lowell</text>
<text x="20.5" y="42.6" textLength="59" lengthAdjust="spacingAndGlyphs" style="font-family:'Liberation Sans','DejaVu Sans',sans-serif;font-size:10.4px;fill:#962a62;stroke:#962a62;stroke-width:0.35px">DIGISONDE</text>
<text class="mb" y="19"><tspan x="399">STATION</tspan> <tspan x="463">NAME</tspan> <tspan x="527">YYYY</tspan> <tspan x="567">DATE</tspan> <tspan x="615">DDD</tspan> <tspan x="647">HHMMSS</tspan> <tspan x="703">AXN</tspan> <tspan x="735">PPS</tspan> <tspan x="767">IGP</tspan></text>
<text class="mb" y="36"><tspan x="399">Pruhonice</tspan> <tspan x="527">2022</tspan> <tspan x="567">Jan23</tspan> <tspan x="615">023</tspan> <tspan x="647">163915</tspan> <tspan x="703">417</tspan> <tspan x="735">100</tspan> <tspan x="767">-8E</tspan></text>
<text class="m" y="71.4"><tspan x="594">Num</tspan> <tspan x="622">of</tspan> <tspan x="643">Sources</tspan> <tspan x="770">333</tspan></text>
<text class="m" y="85.4"><tspan x="594">Min</tspan> <tspan x="622">Freq,</tspan> <tspan x="664">kHz</tspan> <tspan x="763">4400</tspan></text>
<text class="m" y="99.4"><tspan x="594">Max</tspan> <tspan x="622">Freq,</tspan> <tspan x="664">kHz</tspan> <tspan x="763">4600</tspan></text>
<text class="m" y="113.4"><tspan x="594">Min</tspan> <tspan x="622">Range,</tspan> <tspan x="671">km</tspan> <tspan x="770">247</tspan></text>
<text class="m" y="127.4"><tspan x="594">Max</tspan> <tspan x="622">Range,</tspan> <tspan x="671">km</tspan> <tspan x="770">520</tspan></text>
<text class="m" y="141.4"><tspan x="594">Max</tspan> <tspan x="622">Amp,</tspan> <tspan x="657">dB</tspan> <tspan x="777">55</tspan></text>
<text class="m" y="155.4"><tspan x="594">Max</tspan> <tspan x="622">SNR</tspan> <tspan x="650">Amp,</tspan> <tspan x="685">dB</tspan> <tspan x="777">52</tspan></text>
<text class="m" y="169.4"><tspan x="594">Min</tspan> <tspan x="622">SNR</tspan> <tspan x="650">Amp,</tspan> <tspan x="685">dB</tspan> <tspan x="777">12</tspan></text>
<text class="m" y="183.4"><tspan x="594">Avg</tspan> <tspan x="622">SNR</tspan> <tspan x="650">Amp,</tspan> <tspan x="685">dB</tspan> <tspan x="777">26</tspan></text>
<text class="m" y="197.4"><tspan x="594">Max</tspan> <tspan x="622">RMS</tspan> <tspan x="650">Err,</tspan> <tspan x="685">deg</tspan> <tspan x="763">51.0</tspan></text>
<text class="m" y="211.4"><tspan x="594">Min</tspan> <tspan x="622">RMS</tspan> <tspan x="650">Err,</tspan> <tspan x="685">deg</tspan> <tspan x="770">0.0</tspan></text>
<text class="m" y="225.4"><tspan x="594">Avg</tspan> <tspan x="622">RMS</tspan> <tspan x="650">Err,</tspan> <tspan x="685">deg</tspan> <tspan x="763">10.5</tspan></text>
<text class="m" y="239.4"><tspan x="594">Doppler</tspan> <tspan x="650">Res,</tspan> <tspan x="685">Hz</tspan> <tspan x="749">0.0781</tspan></text>
<text class="m" y="253.4"><tspan x="594">CIT,</tspan> <tspan x="629">sec</tspan> <tspan x="756">12.80</tspan></text>
<text class="m" y="267.4"><tspan x="594">Num</tspan> <tspan x="622">of</tspan> <tspan x="643">CITs</tspan> <tspan x="784">3</tspan></text>
<text class="m" y="281.4"><tspan x="594">Polarization</tspan> <tspan x="749">O-mode</tspan></text>
<text class="m" y="295.4"><tspan x="594">Center</tspan> <tspan x="643">of</tspan> <tspan x="664">Sources,</tspan> <tspan x="727">deg:</tspan></text>
<text class="m" y="309.4"><tspan x="664">Zenith</tspan> <tspan x="770">5.8</tspan></text>
<text class="m" y="323.4"><tspan x="664">Azimuth</tspan></text>
<text class="s" x="719.6" y="322.6" style="font-size:8px;font-weight:bold">↶</text>
<text class="m" y="323.4"><tspan x="770">218</tspan></text>
<text class="mi" x="12" y="572"><tspan>V</tspan><tspan dy="4" style="font-style:normal;font-size:11px">h</tspan><tspan dy="-4" xml:space="preserve"> = 170 ± 34</tspan><tspan style="font-style:normal" xml:space="preserve"> m/s</tspan></text>
<text class="mi" x="11.3" y="593">Geographic coordinates</text>
<text class="mi" x="467" y="572"><tspan>V</tspan><tspan dy="4" style="font-style:normal;font-size:11px">z</tspan><tspan dy="-4" xml:space="preserve"> = -22 ± 2</tspan><tspan style="font-style:normal" xml:space="preserve"> m/s</tspan></text>
<text class="mi" y="593"><tspan x="419">Zenith:</tspan> <tspan x="475">max</tspan> <tspan x="503">40</tspan><tspan x="517">°</tspan> <tspan x="534.2">step</tspan> <tspan x="569.2">5</tspan><tspan x="575">°</tspan></text>
<text class="s" x="654.3" y="592.6" textLength="89.3" lengthAdjust="spacing" style="font-size:9.3px">ShowSkymap v 1.0</text>
<text class="s" x="753.2" y="592.6" textLength="39.2" lengthAdjust="spacing" style="font-size:9.3px">SD v 5.1</text>
<defs><linearGradient id="jet" x1="0" y1="0" x2="0" y2="1">
<stop offset="0" stop-color="rgb(0, 0, 190)"/>
<stop offset="0.06" stop-color="rgb(0, 0, 255)"/>
<stop offset="0.36" stop-color="rgb(0, 255, 255)"/>
<stop offset="0.5" stop-color="rgb(128, 255, 128)"/>
<stop offset="0.64" stop-color="rgb(255, 255, 0)"/>
<stop offset="0.94" stop-color="rgb(255, 0, 0)"/>
<stop offset="1" stop-color="rgb(190, 0, 0)"/>
</linearGradient></defs>
<rect x="593" y="341" width="16" height="242" fill="url(#jet)"/>
<line x1="608.5" y1="341" x2="608.5" y2="583" stroke="#000" shape-rendering="crispEdges"/>
<line x1="609" y1="341.5" x2="614" y2="341.5" stroke="#000" shape-rendering="crispEdges"/>
<text class="sb" x="617" y="344.4" style="font-size:10.6px;letter-spacing:0.3px">5.0</text>
<line x1="609" y1="365.5" x2="614" y2="365.5" stroke="#000" shape-rendering="crispEdges"/>
<text class="sb" x="617" y="368.5" style="font-size:10.6px;letter-spacing:0.3px">4.0</text>
<line x1="609" y1="389.5" x2="614" y2="389.5" stroke="#000" shape-rendering="crispEdges"/>
<text class="sb" x="617" y="392.6" style="font-size:10.6px;letter-spacing:0.3px">3.0</text>
<line x1="609" y1="413.5" x2="614" y2="413.5" stroke="#000" shape-rendering="crispEdges"/>
<text class="sb" x="617" y="416.7" style="font-size:10.6px;letter-spacing:0.3px">2.0</text>
<line x1="609" y1="437.5" x2="614" y2="437.5" stroke="#000" shape-rendering="crispEdges"/>
<text class="sb" x="617" y="440.8" style="font-size:10.6px;letter-spacing:0.3px">1.0</text>
<line x1="609" y1="462.5" x2="614" y2="462.5" stroke="#000" shape-rendering="crispEdges"/>
<text class="sb" x="617" y="464.9" style="font-size:10.6px;letter-spacing:0.3px">0</text>
<line x1="609" y1="486.5" x2="614" y2="486.5" stroke="#000" shape-rendering="crispEdges"/>
<text class="sb" x="617" y="489.0" style="font-size:10.6px;letter-spacing:0.3px">-1.0</text>
<line x1="609" y1="510.5" x2="614" y2="510.5" stroke="#000" shape-rendering="crispEdges"/>
<text class="sb" x="617" y="513.1" style="font-size:10.6px;letter-spacing:0.3px">-2.0</text>
<line x1="609" y1="534.5" x2="614" y2="534.5" stroke="#000" shape-rendering="crispEdges"/>
<text class="sb" x="617" y="537.2" style="font-size:10.6px;letter-spacing:0.3px">-3.0</text>
<line x1="609" y1="558.5" x2="614" y2="558.5" stroke="#000" shape-rendering="crispEdges"/>
<text class="sb" x="617" y="561.3" style="font-size:10.6px;letter-spacing:0.3px">-4.0</text>
<line x1="609" y1="582.5" x2="614" y2="582.5" stroke="#000" shape-rendering="crispEdges"/>
<text class="sb" x="617" y="585.4" style="font-size:10.6px;letter-spacing:0.3px">-5.0</text>
<text class="sb" transform="translate(657,492.5) rotate(-90)" textLength="53.5" lengthAdjust="spacing" style="font-size:9px">Doppler, Hz</text>
<path d="M669 402.5h8M672.5 399v7" stroke="#0000f0" stroke-width="1" fill="none" shape-rendering="crispEdges"/>
<text class="sb" x="682" y="406.3" style="fill:#0000f0;font-size:10px;letter-spacing:0.05px">Positive</text>
<circle cx="673" cy="523" r="2.5" fill="none" stroke="#f00000" stroke-width="1"/>
<text class="sb" x="682" y="526.3" style="fill:#f00000;font-size:10px;letter-spacing:0.15px">Negative</text>
</svg></body></html>
